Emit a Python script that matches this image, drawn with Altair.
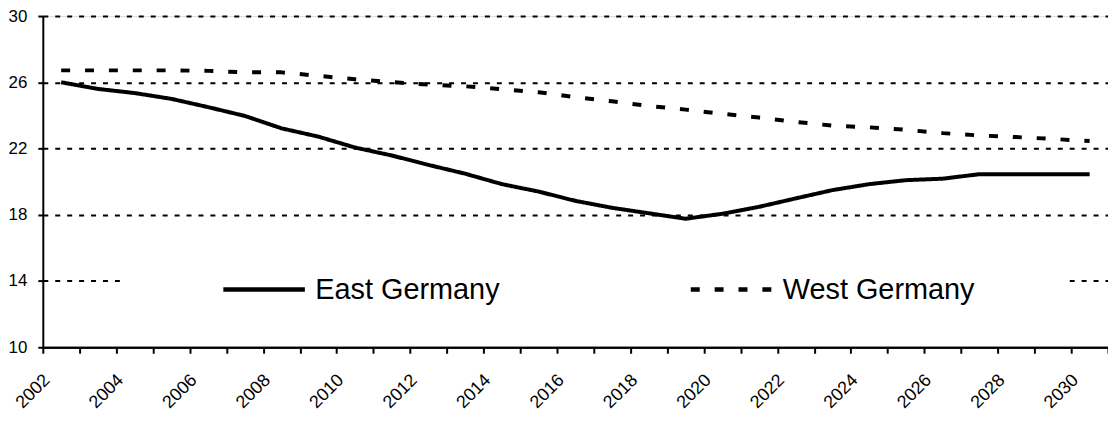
import altair as alt
import pandas as pd

years = list(range(2002, 2031))
east = [26.0, 25.6, 25.35, 25.0, 24.5, 23.97, 23.22, 22.72, 22.06, 21.58,
        21.01, 20.48, 19.85, 19.4, 18.84, 18.42, 18.09, 17.76, 18.06, 18.48,
        18.99, 19.49, 19.85, 20.09, 20.18, 20.45, 20.45, 20.45, 20.45]
west = [26.72, 26.72, 26.72, 26.72, 26.69, 26.6, 26.6, 26.39, 26.18, 26.01,
        25.86, 25.76, 25.58, 25.4, 25.1, 24.85, 24.57, 24.35, 24.1, 23.87,
        23.61, 23.38, 23.28, 23.13, 22.93, 22.79, 22.69, 22.58, 22.45]
series_names = ["East Germany", "West Germany"]
y_ticks = [10, 14, 18, 22, 26, 30]
label_years = [2002, 2004, 2006, 2008, 2010, 2012, 2014, 2016, 2018, 2020,
               2022, 2024, 2026, 2028, 2030]

rows = []
for name, vals in zip(series_names, [east, west]):
    for yr, v in zip(years, vals):
        rows.append({"year": yr, "value": v, "series": name})
df = pd.DataFrame(rows)

# tick marks sit on the boundaries between the yearly categories
tick_pos = [y - 0.5 for y in years] + [years[-1] + 0.5]
FONT = "Liberation Sans"

label_expr = ("indexof(%s, datum.value + 0.5) >= 0 ? '' + (datum.value + 0.5) : ''"
              % str(label_years))
# widen the white legend box on the right (non-breaking spaces kept by a zero-width end char)
legend_expr = ("datum.label == '%s' ? pad(datum.label, 23, '\u00a0') + '\u200b' : datum.label"
               % series_names[1])

chart = alt.Chart(df).mark_line(
    color="black", strokeWidth=4, strokeJoin="round", strokeCap="butt"
).encode(
    x=alt.X("year:Q",
            scale=alt.Scale(domain=[years[0] - 0.5, years[-1] + 0.5], nice=False, zero=False),
            axis=alt.Axis(values=tick_pos, title=None, labelExpr=label_expr,
                          labelAngle=-45, labelAlign="right", labelBaseline="middle",
                          labelPadding=24, labelOffset=4, labelFlush=False,
                          labelOverlap=False,
                          labelFont=FONT, labelFontSize=18, labelColor="black",
                          grid=False)),
    y=alt.Y("value:Q",
            scale=alt.Scale(domain=[10, 30], nice=False, zero=False),
            axis=alt.Axis(values=y_ticks, title=None, labelPadding=11,
                          labelFont=FONT, labelFontSize=17, labelColor="black",
                          tickSize=5,
                          grid=True, gridColor="black", gridWidth=2, gridOpacity=1,
                          gridDash={"condition": {"test": "datum.value == 10", "value": [1, 0]},
                                    "value": [5, 7]})),
    strokeDash=alt.StrokeDash(
        "series:N",
        scale=alt.Scale(domain=series_names, range=[[1, 0], [9, 15]]),
        legend=alt.Legend(title=" ", titleOrient="left", titleFontSize=1,
                          titlePadding=95, orient="none", legendX=79, legendY=255,
                          direction="horizontal", fillColor="white", padding=5,
                          columnPadding=189, labelFont=FONT, labelFontSize=29,
                          labelColor="black", labelOffset=8, labelExpr=legend_expr,
                          labelLimit=0, clipHeight=30,
                          symbolType="stroke", symbolSize=6724,
                          symbolStrokeWidth=4.5, symbolStrokeColor="black",
                          strokeColor="white"),
    ),
).properties(
    width=1071, height=333,
    autosize=alt.AutoSizeParams(type="none"),
    padding={"left": 35, "top": 7, "right": 0, "bottom": 64},
).configure_view(stroke=None).configure(background="white").configure_axis(
    domain=True, domainColor="black", domainWidth=2,
    ticks=True, tickColor="black", tickWidth=2,
).configure_axisX(tickSize=6)

chart.save("out.html", embed_options={"renderer": "svg", "actions": False})
